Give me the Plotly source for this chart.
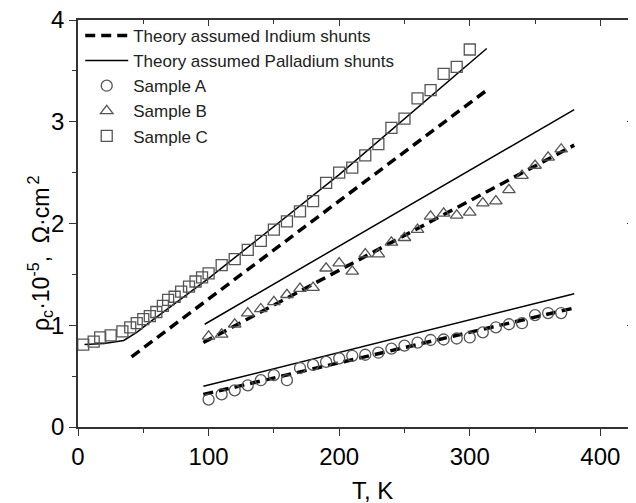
import plotly.graph_objects as go

# ---- data ----
T_A = [100, 110, 120, 130, 140, 150, 160, 170, 180, 190, 200, 210, 220, 230, 240, 250, 260, 270, 280, 290, 300, 310, 320, 330, 340, 350, 360, 370]
rho_A = [0.27, 0.32, 0.36, 0.41, 0.46, 0.51, 0.46, 0.58, 0.61, 0.64, 0.675, 0.70, 0.71, 0.73, 0.77, 0.80, 0.83, 0.855, 0.86, 0.87, 0.88, 0.93, 0.98, 1.01, 1.02, 1.10, 1.12, 1.12]

T_B = [100, 110, 120, 130, 140, 150, 160, 170, 180, 190, 200, 210, 220, 230, 240, 250, 260, 270, 280, 290, 300, 310, 320, 330, 340, 350, 360, 370]
rho_B = [0.89, 0.91, 1.01, 1.12, 1.16, 1.23, 1.30, 1.36, 1.37, 1.56, 1.61, 1.53, 1.70, 1.70, 1.815, 1.86, 1.94, 2.07, 2.10, 2.08, 2.11, 2.20, 2.22, 2.33, 2.47, 2.57, 2.65, 2.73]

T_C = [4, 12, 17, 25, 34, 40, 45, 50, 55, 60, 65, 69, 74, 79, 85, 90, 95, 100, 110, 120, 130, 140, 150, 160, 170, 180, 190, 200, 210, 220, 230, 240, 250, 260, 270, 280, 290, 300]
rho_C = [0.81, 0.84, 0.88, 0.90, 0.94, 0.98, 1.02, 1.06, 1.09, 1.13, 1.19, 1.25, 1.28, 1.33, 1.38, 1.43, 1.47, 1.51, 1.59, 1.65, 1.74, 1.83, 1.94, 2.02, 2.12, 2.22, 2.40, 2.50, 2.55, 2.67, 2.78, 2.94, 3.03, 3.23, 3.31, 3.47, 3.54, 3.71]

# theory curves
T_A_in = [96, 380]
rho_A_in = [0.32, 1.17]
T_A_pd = [96, 380]
rho_A_pd = [0.40, 1.31]

T_B_in = [96, 380]
rho_B_in = [0.83, 2.77]
T_B_pd = [97, 380]
rho_B_pd = [1.01, 3.12]

T_C_in = [41, 313]
rho_C_in = [0.69, 3.31]
T_C_pd = [5, 20, 35, 45, 55, 100, 200, 313]
rho_C_pd = [0.81, 0.82, 0.85, 0.93, 1.03, 1.46, 2.48, 3.72]

x_ticks = [0, 100, 200, 300, 400]
y_ticks = [0, 1, 2, 3, 4]

FONT = "Liberation Sans, Arial, sans-serif"
dash_style = dict(color="black", width=3.5, dash="10px,6px")
solid_style = dict(color="black", width=1.5)
mk_color = "#555555"

fig = go.Figure()
fig.add_trace(go.Scatter(x=T_C_in, y=rho_C_in, mode="lines", line=dash_style,
                         name="Theory assumed Indium shunts", legendgroup="in"))
fig.add_trace(go.Scatter(x=T_C_pd, y=rho_C_pd, mode="lines", line=solid_style,
                         name="Theory assumed Palladium shunts", legendgroup="pd"))
fig.add_trace(go.Scatter(x=T_B_in, y=rho_B_in, mode="lines", line=dash_style,
                         showlegend=False, legendgroup="in"))
fig.add_trace(go.Scatter(x=T_B_pd, y=rho_B_pd, mode="lines", line=solid_style,
                         showlegend=False, legendgroup="pd"))
fig.add_trace(go.Scatter(x=T_A_in, y=rho_A_in, mode="lines", line=dash_style,
                         showlegend=False, legendgroup="in"))
fig.add_trace(go.Scatter(x=T_A_pd, y=rho_A_pd, mode="lines", line=solid_style,
                         showlegend=False, legendgroup="pd"))
fig.add_trace(go.Scatter(x=T_A, y=rho_A, mode="markers", name="Sample A",
                         marker=dict(symbol="circle-open", size=11, color=mk_color, line=dict(width=1.3))))
fig.add_trace(go.Scatter(x=T_B, y=rho_B, mode="markers", name="Sample B",
                         marker=dict(symbol="triangle-up-open", size=11, color=mk_color, line=dict(width=1.3))))
fig.add_trace(go.Scatter(x=T_C, y=rho_C, mode="markers", name="Sample C",
                         marker=dict(symbol="square-open", size=11, color=mk_color, line=dict(width=1.3))))
# invisible trace for mirrored (inside) ticks on top/right
fig.add_trace(go.Scatter(x=[0], y=[0], xaxis="x2", yaxis="y2", mode="markers",
                         marker=dict(opacity=0), showlegend=False, hoverinfo="skip"))

axis_font = dict(family=FONT, size=24, color="black")
line_col = "#333333"

# page body has an 8px margin, so the figure is 8px smaller than the window
fig.update_layout(
    width=628, height=495,
    margin=dict(l=70, r=3, t=12, b=76),
    paper_bgcolor="white", plot_bgcolor="white",
    font=dict(family=FONT, color="black"),
    showlegend=True,
    legend=dict(x=0.004, y=1.005, xanchor="left", yanchor="top", bgcolor="rgba(0,0,0,0)",
                font=dict(size=17, family=FONT, color="#222"),
                itemwidth=43, tracegroupgap=0),
    xaxis=dict(range=[0, 425], tickvals=x_ticks, ticks="outside", ticklen=7, tickwidth=1.3,
               tickcolor=line_col, showline=True, linecolor=line_col, linewidth=1.5,
               showgrid=False, zeroline=False, tickfont=axis_font, automargin=False,
               ticklabeloverflow="allow",
               minor=dict(dtick=50, ticks="outside", ticklen=4, tickcolor=line_col, tickwidth=1.3, showgrid=False)),
    yaxis=dict(range=[0, 4], tickvals=y_ticks, ticks="outside", ticklen=7, tickwidth=1.3,
               tickcolor=line_col, showline=True, linecolor=line_col, linewidth=1.5,
               showgrid=False, zeroline=False, tickfont=axis_font, automargin=False,
               ticklabeloverflow="allow",
               minor=dict(dtick=0.5, ticks="outside", ticklen=4, tickcolor=line_col, tickwidth=1.3, showgrid=False)),
    xaxis2=dict(overlaying="x", side="top", range=[0, 425], tickvals=x_ticks, ticks="inside",
                ticklen=6, tickwidth=1.3, tickcolor=line_col, showline=True, linecolor=line_col,
                linewidth=1.5, showticklabels=False, showgrid=False, zeroline=False, automargin=False,
                minor=dict(dtick=50, ticks="inside", ticklen=4, tickcolor=line_col, tickwidth=1.3, showgrid=False)),
    yaxis2=dict(overlaying="y", side="right", range=[0, 4], tickvals=y_ticks, ticks="inside",
                ticklen=6, tickwidth=1.3, tickcolor=line_col, showline=True, linecolor=line_col,
                linewidth=1.5, showticklabels=False, showgrid=False, zeroline=False, automargin=False,
                minor=dict(dtick=0.5, ticks="inside", ticklen=4, tickcolor=line_col, tickwidth=1.3, showgrid=False)),
    annotations=[
        dict(text="T, K", xref="paper", yref="paper",
             x=(372 - 78) / 555, y=-(490 - 427) / 407, xanchor="center", yanchor="middle",
             showarrow=False, font=dict(family=FONT, size=24, color="black")),
        dict(text="ρ<sub>c</sub>·10<sup>-5</sup>,\u00a0\u00a0Ω·cm<sup>\u20092</sup>",
             xref="paper", yref="paper",
             x=-(78 - 40) / 555, y=(427 - 253) / 407, xanchor="center", yanchor="middle",
             textangle=-90, showarrow=False, font=dict(family=FONT, size=23, color="black")),
    ],
)

fig.write_html("out.html")
